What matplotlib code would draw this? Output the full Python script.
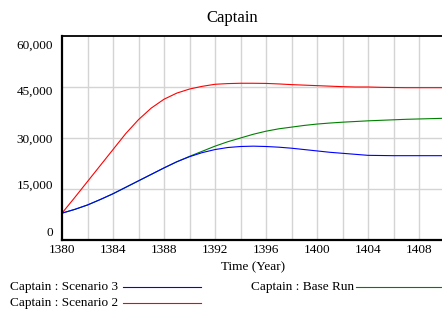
import matplotlib
matplotlib.use("Agg")
import matplotlib.pyplot as plt
import numpy as np
from matplotlib.lines import Line2D
from matplotlib.transforms import ScaledTranslation

plt.rcParams['font.family'] = ['Liberation Serif', 'DejaVu Serif']

years = np.arange(1380, 1411)

scenario3 = [7900, 9000, 10300, 11900, 13600, 15500, 17400, 19300, 21200, 23000,
             24500, 25700, 26600, 27200, 27500, 27600, 27500, 27300, 27000, 26600,
             26200, 25800, 25500, 25200, 24900, 24850, 24800, 24800, 24800, 24800, 24800]
scenario2 = [7900, 12500, 17200, 21900, 26600, 31300, 35400, 38800, 41400, 43200,
             44400, 45200, 45800, 46000, 46100, 46100, 46050, 45900, 45700, 45550,
             45400, 45250, 45100, 45000, 45000, 44900, 44850, 44800, 44800, 44800, 44800]
base_run = [7900, 9000, 10300, 11900, 13600, 15500, 17400, 19300, 21200, 23000,
            24600, 26100, 27600, 28900, 30000, 31100, 32000, 32700, 33200, 33700,
            34100, 34400, 34650, 34850, 35050, 35200, 35350, 35500, 35600, 35700, 35800]

ytick_vals = [0, 15000, 30000, 45000, 60000]
ytick_labels = ["0", "15,000", "30,000", "45,000", "60,000"]
xtick_vals = [1380, 1384, 1388, 1392, 1396, 1400, 1404, 1408]

W, H = 442, 313
fig = plt.figure(figsize=(W / 100, H / 100), dpi=100)
ax = fig.add_axes([62 / W, 1 - 240 / H, (444.5 - 62) / W, (240 - 36) / H])

ax.plot(years, scenario2, color="#ff0000", lw=0.8)
ax.plot(years, base_run, color="#008000", lw=0.8)
ax.plot(years, scenario3, color="#0000ff", lw=0.8)

ax.set_xlim(1380, 1410)
ax.set_ylim(0, 60000)

for x in range(1382, 1410, 2):
    ax.axvline(x, color="#d4d4d4", lw=1.0, zorder=0)
for y in ytick_vals[1:-1]:
    ax.axhline(y, color="#d4d4d4", lw=1.0, zorder=0)

ax.set_xticks(xtick_vals)
ax.set_xticklabels([str(v) for v in xtick_vals], fontsize=9.5)
ax.set_yticks(ytick_vals)
ax.set_yticklabels(ytick_labels, fontsize=9.5)
ax.tick_params(length=0, pad=3)
ax.tick_params(axis='y', pad=6.5)

# Vensim spaces the y labels a bit differently from the ticks
shifts = [8, 4.5, 0, -3, -8]
for lab, dy in zip(ax.get_yticklabels(), shifts):
    lab.set_transform(lab.get_transform() + ScaledTranslation(0, dy / 100, fig.dpi_scale_trans))

ax.set_xlabel("Time (Year)", fontsize=9.5, labelpad=4)

for s in ["left", "bottom"]:
    ax.spines[s].set_linewidth(1.6)
ax.spines["top"].set_linewidth(1.3)
ax.spines["right"].set_visible(False)

fig.text(232 / W, 1 - 18 / H, "Captain", fontsize=12, ha="center", va="center")

# legend
fig.text(10 / W, 1 - 287 / H, "Captain : Scenario 3", fontsize=9.5, va="center")
fig.add_artist(Line2D([123 / W, 201 / W], [1 - 287 / H] * 2, color="#0000ff", lw=0.8))
fig.text(10 / W, 1 - 303 / H, "Captain : Scenario 2", fontsize=9.5, va="center")
fig.add_artist(Line2D([123 / W, 201 / W], [1 - 303 / H] * 2, color="#ff0000", lw=0.8))
fig.text(251 / W, 1 - 287 / H, "Captain : Base Run", fontsize=9.5, va="center")
fig.add_artist(Line2D([356 / W, 442 / W], [1 - 287 / H] * 2, color="#008000", lw=0.8))

fig.savefig("out.png", dpi=100)
